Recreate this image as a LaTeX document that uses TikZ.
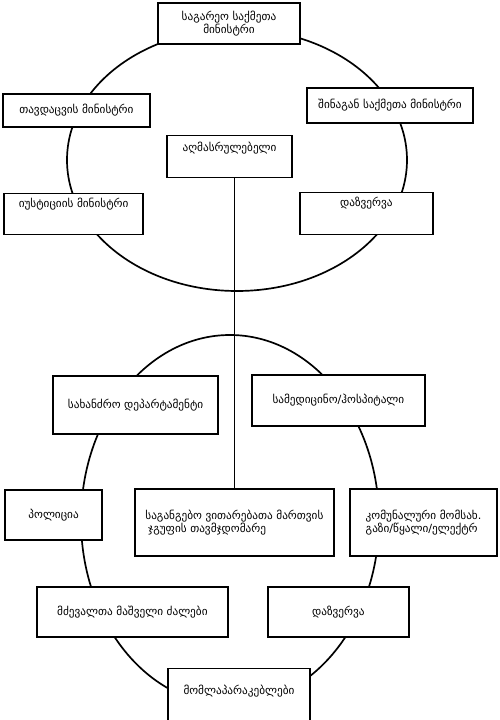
\documentclass[tikz,border=0pt]{standalone}
\usepackage{fontspec}
\setmainfont{DejaVu Sans}
\usetikzlibrary{positioning}

\begin{document}
\begin{tikzpicture}[
  font=\fontsize{8}{9}\selectfont,
  unit/.style={
    draw=black, fill=white, line width=1pt,
    align=center, inner sep=0.1cm
  },
  topunit/.style={unit,
    anchor=north, text height=0.25cm, text depth=#1
  },
  ring/.style={draw=black, line width=1.2pt},
]
\useasboundingbox (0, 0) rectangle (12.5, 18);

% Rings
\draw[ring] (5.925, 14.0) ellipse [x radius=4.25, y radius=3.275];
\draw[ring] (5.75, 5.0) ellipse [x radius=3.725, y radius=4.625];

% Upper ring
\node[unit, minimum width=3.55cm, minimum height=1.025cm]  (foreign) at (5.725, 17.41) {საგარეო საქმეთა\\მინისტრი};
\node[unit, minimum width=3.675cm, minimum height=0.825cm] (defence) at (1.91, 15.24) {თავდაცვის მინისტრი};
\node[unit, minimum width=4.15cm, minimum height=0.875cm]  (interior) at (9.75, 15.36) {შინაგან საქმეთა მინისტრი};
\node[topunit=0.55cm, minimum width=3.125cm, text height=0.3cm] (exec) at (5.74, 14.625) {აღმასრულებელი};
\node[topunit=0.575cm, minimum width=3.475cm] (justice) at (1.84, 13.175) {იუსტიციის მინისტრი};
\node[topunit=0.6cm, minimum width=3.325cm]   (intelA) at (9.16, 13.2) {დაზვერვა};

% Lower ring
\node[unit, minimum width=4.125cm, minimum height=1.45cm]  (fire) at (3.39, 7.875) {სახანძრო დეპარტამენტი};
\node[unit, minimum width=4.325cm, minimum height=1.275cm] (medic) at (8.46, 7.99) {სამედიცინო/ჰოსპიტალი};
\node[unit, minimum width=2.425cm, minimum height=1.25cm]  (police) at (1.34, 5.125) {პოლიცია};
\node[unit, align=left, minimum width=4.975cm, minimum height=1.675cm] (crisis) at (5.86, 4.94) {საგანგებო ვითარებათა მართვის\\\hspace{2pt}ჯგუფის თავმჯდომარე};
\node[unit, align=left, minimum width=3.675cm, minimum height=1.675cm] (utility) at (10.59, 4.94) {კომუნალური მომსახ.\\გაზი/წყალი/ელექტრ};
\node[unit, minimum width=4.775cm, minimum height=1.25cm]  (rescue) at (3.31, 2.7) {მძევალთა მაშველი ძალები};
\node[unit, minimum width=3.525cm, minimum height=1.25cm]  (intelB) at (8.46, 2.7) {დაზვერვა};
\node[topunit=0.7cm, minimum width=3.55cm, text height=0.55cm] (talks) at (5.975, 1.3) {მომლაპარაკებლები};

\draw[line width=0.8pt] (crisis.north |- exec.south) -- (crisis.north);

\end{tikzpicture}
\end{document}
